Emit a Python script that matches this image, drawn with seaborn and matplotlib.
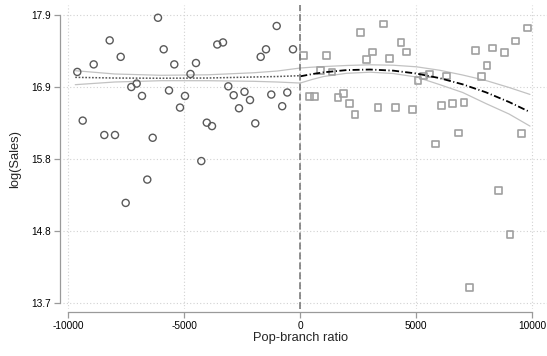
# Scatter of log(Sales) against pop-branch ratio, with quadratic fits and 95% CIs
# on each side of the cutoff at zero.

import pandas as pd
import matplotlib
matplotlib.use("Agg")
import matplotlib.pyplot as plt
import seaborn as sns

# Observations below the cutoff (circles)
left_x = [-9612, -9379, -8905, -8448, -8216, -7987, -7741, -7526, -7284, -7052,
          -6823, -6595, -6362, -6134, -5888, -5659, -5431, -5185, -4970, -4733,
          -4496, -4267, -4030, -3806, -3578, -3332, -3103, -2871, -2642, -2405,
          -2168, -1940, -1707, -1478, -1250, -1017, -780, -560, -315]
left_y = [17.07, 16.36, 17.18, 16.15, 17.53, 16.15, 17.29, 15.16, 16.85, 16.90,
          16.72, 15.50, 16.11, 17.86, 17.40, 16.80, 17.18, 16.55, 16.72, 17.04,
          17.20, 15.77, 16.33, 16.28, 17.47, 17.50, 16.86, 16.73, 16.54, 16.78,
          16.66, 16.32, 17.29, 17.40, 16.74, 17.74, 16.57, 16.77, 17.40]

# Observations above the cutoff (squares)
right_x = [147, 388, 621, 879, 1121, 1366, 1625, 1871, 2112, 2358,
           2603, 2845, 3103, 3349, 3595, 3836, 4095, 4341, 4586, 4828,
           5073, 5323, 5582, 5828, 6073, 6315, 6569, 6810, 7056, 7302,
           7560, 7802, 8047, 8293, 8552, 8793, 9039, 9284, 9543, 9784]
right_y = [17.31, 16.71, 16.71, 17.09, 17.31, 17.07, 16.70, 16.75, 16.61, 16.45,
           17.65, 17.25, 17.36, 16.55, 17.77, 17.26, 16.55, 17.50, 17.36, 16.52,
           16.94, 17.01, 17.04, 16.02, 16.58, 17.01, 16.61, 16.18, 16.62, 13.93,
           17.38, 17.00, 17.16, 17.42, 15.34, 17.35, 14.70, 17.52, 16.17, 17.71]

# Quadratic fit and 95% CI, left of cutoff
left_fit_x = [-9700, -8000, -6000, -4000, -2000, -1000, 0]
left_fit_y = [16.991, 16.981, 16.978, 16.981, 16.996, 17.003, 17.015]
left_ci_hi = [17.088, 17.040, 17.021, 17.028, 17.058, 17.083, 17.127]
left_ci_lo = [16.884, 16.923, 16.942, 16.942, 16.933, 16.923, 16.908]

# Quadratic fit and 95% CI, right of cutoff
right_fit_x = [0, 500, 1000, 2000, 3000, 4000, 5000, 6000, 7000, 8000, 9000, 9900]
right_fit_y = [17.006, 17.038, 17.064, 17.097, 17.105, 17.089, 17.047, 16.980,
               16.889, 16.773, 16.631, 16.485]
right_ci_hi = [17.127, 17.139, 17.148, 17.164, 17.174, 17.168, 17.145, 17.095,
               17.025, 16.945, 16.843, 16.742]
right_ci_lo = [16.908, 16.959, 17.003, 17.050, 17.066, 17.047, 16.996, 16.886,
               16.770, 16.609, 16.456, 16.280]

# Axis ticks
x_ticks = [-10000, -5000, 0, 5000, 10000]
x_tick_labels = ["-10000", "-5000", "0", "5000", "10000"]
y_ticks = [13.7, 14.75, 15.8, 16.85, 17.9]
y_tick_labels = ["13.7", "14.8", "15.8", "16.9", "17.9"]

left_df = pd.DataFrame({"x": left_x, "y": left_y})
right_df = pd.DataFrame({"x": right_x, "y": right_y})
left_fit = pd.DataFrame({"x": left_fit_x, "fit": left_fit_y, "lo": left_ci_lo, "hi": left_ci_hi})
right_fit = pd.DataFrame({"x": right_fit_x, "fit": right_fit_y, "lo": right_ci_lo, "hi": right_ci_hi})

sns.set_style("white")
plt.rcParams["font.family"] = ["Liberation Sans", "DejaVu Sans"]

fig = plt.figure(figsize=(5.47, 3.56), dpi=100)
ax = fig.add_axes([63 / 547, 47.5 / 356, 484 / 547, 303.5 / 356])

# Confidence bands (thin light lines)
ci_color = "#c2c2c2"
for fit in (left_fit, right_fit):
    sns.lineplot(data=fit, x="x", y="lo", ax=ax, color=ci_color, lw=0.9, zorder=2)
    sns.lineplot(data=fit, x="x", y="hi", ax=ax, color=ci_color, lw=0.9, zorder=2)

# Scatter points
sns.scatterplot(data=left_df, x="x", y="y", ax=ax, marker="o", s=26,
                facecolor="none", edgecolor="#5a5a5a", linewidth=1.0, zorder=3)
sns.scatterplot(data=right_df, x="x", y="y", ax=ax, marker="s", s=24,
                facecolor="none", edgecolor="#a0a0a0", linewidth=1.2, zorder=3)

# Fitted lines
sns.lineplot(data=left_fit, x="x", y="fit", ax=ax, color="#555555", lw=1.1,
             zorder=4).lines[-1].set_dashes([1.1, 1.1])
sns.lineplot(data=right_fit, x="x", y="fit", ax=ax, color="black", lw=1.3,
             zorder=4).lines[-1].set_dashes([3.9, 1.4, 0.6, 1.4])

# Cutoff line
ax.axvline(0, color="#707070", lw=1.1, dashes=(4.5, 2), zorder=5)

# Axes, ticks, grid
ax.set_xlim(-10228, 10634)
ax.set_ylim(13.62, 18.046)
ax.set_xticks(x_ticks)
ax.set_xticklabels(x_tick_labels)
ax.set_yticks(y_ticks)
ax.set_yticklabels(y_tick_labels)
ax.grid(True, linestyle=(0, (1, 2)), color="#d2d2d2", lw=0.8, zorder=0)

for side in ("top", "right"):
    ax.spines[side].set_visible(False)
for side in ("left", "bottom"):
    ax.spines[side].set_color("#9a9a9a")
    ax.spines[side].set_linewidth(0.9)
ax.spines["left"].set_position(("outward", 2.2))
ax.spines["bottom"].set_position(("outward", 2.5))
ax.spines["left"].set_bounds(13.7, 17.9)
ax.spines["bottom"].set_bounds(-10000, 10000)

ax.tick_params(axis="both", which="major", length=4.5, width=0.9, color="#9a9a9a",
               labelsize=7.3, labelcolor="black", pad=2, left=True, bottom=True)

ax.set_xlabel("Pop-branch ratio", fontsize=9.3)
ax.set_ylabel("log(Sales)", fontsize=9.3)
ax.xaxis.set_label_coords(0.490, -0.076)
ax.yaxis.set_label_coords(-0.087, 0.4926)

plt.savefig("out.png", dpi=100)
